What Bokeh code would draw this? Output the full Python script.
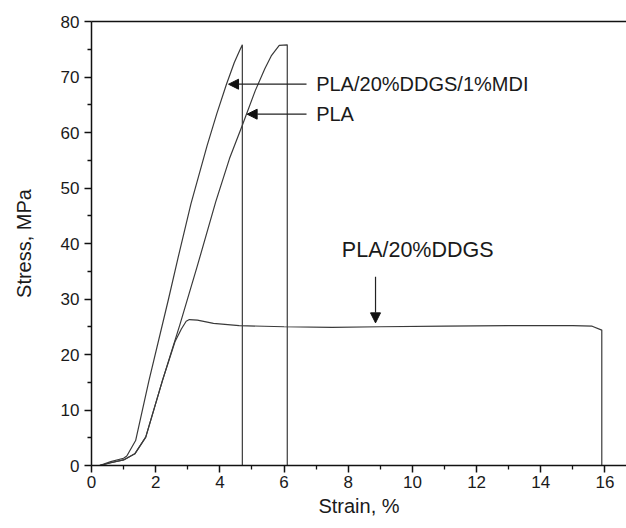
from bokeh.plotting import figure
from bokeh.models import LinearAxis, Range1d, Arrow, NormalHead, Label, FixedTicker
from bokeh.embed import file_html
from bokeh.resources import INLINE

# PLA/20%DDGS/1%MDI
mdi_x = [0.25, 0.6, 1.0, 1.1, 1.375, 1.79, 2.4, 2.7, 3.1, 3.6, 3.9, 4.2, 4.45, 4.62, 4.7, 4.7]
mdi_y = [0.0, 0.7, 1.3, 1.7, 4.5, 15.3, 30.0, 37.5, 47.2, 57.6, 63.3, 68.6, 72.6, 74.8, 75.8, 0.0]

# PLA
pla_x = [0.25, 0.6, 1.0, 1.35, 1.69, 2.21, 2.75, 3.3, 3.87, 4.3, 4.7, 5.1, 5.4, 5.6, 5.85, 6.1, 6.1]
pla_y = [0.0, 0.5, 1.0, 2.1, 5.1, 15.3, 25.3, 36.0, 47.5, 55.3, 61.3, 67.5, 71.5, 73.8, 75.7, 75.8, 0.0]

# PLA/20%DDGS
ddgs_x = [0.25, 0.6, 1.0, 1.35, 1.69, 2.21, 2.6, 2.8, 2.95, 3.05, 3.3, 3.8, 4.6, 6.0, 7.5, 9.0, 11.0, 13.0, 15.0, 15.6, 15.9, 15.9]
ddgs_y = [0.0, 0.5, 1.0, 2.1, 5.1, 15.3, 22.3, 24.6, 26.0, 26.3, 26.2, 25.6, 25.2, 25.0, 24.9, 25.0, 25.1, 25.2, 25.2, 25.1, 24.4, 0.0]

x_ticks = [0, 2, 4, 6, 8, 10, 12, 14, 16]
y_ticks = [0, 10, 20, 30, 40, 50, 60, 70, 80]

FONT = "Liberation Sans"
TXT = "#1a1a1a"
LINE = "#3a3a3a"

p = figure(width=626, height=528, output_backend="svg", toolbar_location=None,
           x_range=Range1d(0, 16.67), y_range=Range1d(0, 80),
           x_axis_location=None, y_axis_location=None,
           min_border_left=91, min_border_right=0, min_border_top=21, min_border_bottom=63)
p.outline_line_color = None
p.xgrid.visible = False
p.ygrid.visible = False
p.background_fill_color = "white"
p.border_fill_color = "white"

def style_axis(ax, ticks, label):
    ax.ticker = FixedTicker(ticks=ticks, minor_ticks=[t + (ticks[1] - ticks[0]) / 2 for t in ticks])
    ax.axis_label = label
    ax.axis_label_text_font = FONT
    ax.axis_label_text_font_size = "20px"
    ax.axis_label_text_font_style = "normal"
    ax.axis_label_text_color = TXT
    ax.major_label_text_font = FONT
    ax.major_label_text_font_size = "17px"
    ax.major_label_text_color = TXT
    ax.axis_line_color = "#111111"
    ax.axis_line_width = 1.5
    ax.major_tick_line_color = "#111111"
    ax.major_tick_line_width = 1.5
    ax.minor_tick_line_color = "#111111"
    ax.minor_tick_line_width = 1.3
    ax.major_tick_in = 0
    ax.major_tick_out = 7
    ax.minor_tick_in = 0
    ax.minor_tick_out = 4

xaxis = LinearAxis()
style_axis(xaxis, x_ticks, "Strain, %")
xaxis.major_label_standoff = 3
xaxis.axis_label_standoff = 4
p.add_layout(xaxis, "below")

yaxis = LinearAxis()
style_axis(yaxis, y_ticks, "Stress, MPa")
yaxis.major_label_standoff = 5
yaxis.axis_label_standoff = 23
p.add_layout(yaxis, "left")

top = LinearAxis(ticker=FixedTicker(ticks=[], minor_ticks=[]), major_tick_out=0, major_tick_in=0,
                 minor_tick_out=0, minor_tick_in=0, axis_line_color="#111111", axis_line_width=1.5)
p.add_layout(top, "above")

for xs, ys in [(mdi_x, mdi_y), (pla_x, pla_y), (ddgs_x, ddgs_y)]:
    p.line(xs, ys, line_color=LINE, line_width=1.2)

head = dict(size=10, fill_color="#111111", line_color="#111111", line_width=1)
p.add_layout(Arrow(end=NormalHead(**head), x_start=6.7, y_start=68.7, x_end=4.27, y_end=68.7,
                   line_color="#222222", line_width=1.2))
p.add_layout(Arrow(end=NormalHead(**head), x_start=6.7, y_start=63.3, x_end=4.85, y_end=63.3,
                   line_color="#222222", line_width=1.2))
p.add_layout(Arrow(end=NormalHead(**head), x_start=8.85, y_start=34.0, x_end=8.85, y_end=25.7,
                   line_color="#222222", line_width=1.2))

for txt, lx, ly, fs in [("PLA/20%DDGS/1%MDI", 7.0, 68.7, "20px"), ("PLA", 7.0, 63.3, "20px"),
                        ("PLA/20%DDGS", 7.8, 38.8, "21.5px")]:
    p.add_layout(Label(x=lx, y=ly, text=txt, text_font=FONT, text_font_size=fs,
                       text_color=TXT, text_baseline="middle", text_align="left"))

open("out.html", "w").write(file_html(p, INLINE))
